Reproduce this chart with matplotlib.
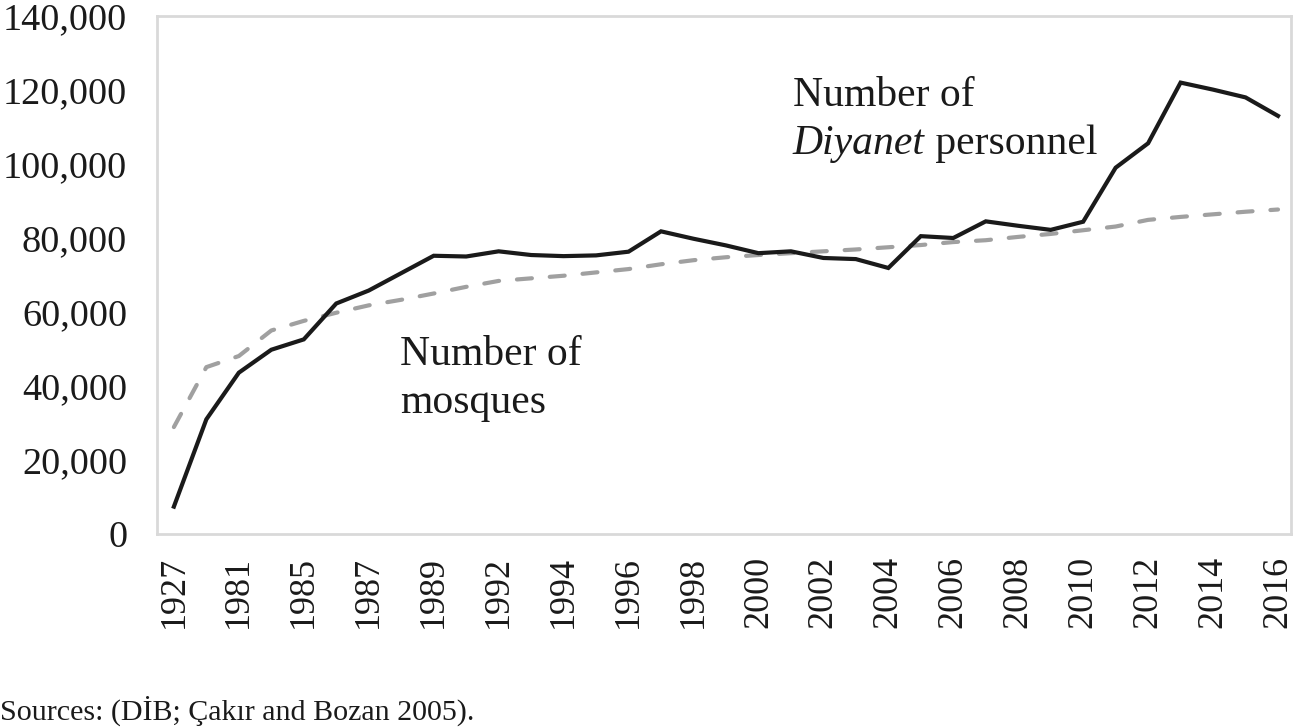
import matplotlib
matplotlib.use("Agg")
import matplotlib.pyplot as plt
from matplotlib.ticker import FuncFormatter

years = ["1927", "1970", "1981", "1983", "1985", "1986", "1987", "1988", "1989", "1990",
         "1992", "1993", "1994", "1995", "1996", "1997", "1998", "1999", "2000", "2001",
         "2002", "2003", "2004", "2005", "2006", "2007", "2008", "2009", "2010", "2011",
         "2012", "2013", "2014", "2015", "2016"]

personnel = [7400, 31000, 43600, 49800, 52600, 62300, 65800, 70500, 75200, 75000,
             76400, 75400, 75100, 75300, 76300, 81800, 79800, 78000, 75900, 76400,
             74600, 74300, 71900, 80500, 80000, 84500, 83300, 82200, 84400, 99000,
             105600, 122000, 120100, 118000, 113000]

mosques = [28900, 45100, 48100, 55000, 57600, 59800, 61800, 63300, 65000, 66800,
           68400, 69100, 69800, 70700, 71600, 72900, 74000, 74800, 75400, 75900,
           76400, 76900, 77500, 78100, 78900, 79400, 80300, 81100, 82100, 83100,
           84900, 85700, 86400, 87100, 87700]

yticks = [0, 20000, 40000, 60000, 80000, 100000, 120000, 140000]

plt.rcParams['font.family'] = ['Liberation Serif', 'DejaVu Serif']

W, H = 1297, 728
fig = plt.figure(figsize=(W / 100, H / 100), dpi=100)
ax = fig.add_axes([157 / W, (H - 534) / H, (1291 - 157) / W, (534 - 16) / H])

x = list(range(len(years)))
ax.plot(x, mosques, color="#A0A0A0", lw=3.0, dashes=(3.6, 4.3),
        dash_capstyle="round", solid_capstyle="round", zorder=2)
ax.plot(x, personnel, color="#1a1a1a", lw=3.0, solid_joinstyle="miter", zorder=3)

ax.set_xlim(-0.52, 34.4)
ax.set_ylim(0, 140000)
ax.set_yticks(yticks)
ax.yaxis.set_major_formatter(FuncFormatter(lambda v, p: f"{int(v):,}"))
ax.set_xticks(x[::2])
ax.set_xticklabels(years[::2], rotation=90)
ax.tick_params(axis="y", length=0, pad=21.5, labelsize=27.5, colors="#1a1a1a")
ax.tick_params(axis="x", length=0, pad=16, labelsize=26, colors="#1a1a1a")

for s in ax.spines.values():
    s.set_color("#D9D9D9")
    s.set_linewidth(2)

tc = "#1a1a1a"
ax.text(19.06, 118500, "Number of", fontsize=30, color=tc, va="center", ha="left")
t1 = ax.text(19.06, 105500, "Diyanet", fontsize=30, style="italic", color=tc,
             va="center", ha="left")
ax.annotate(" personnel", xy=(1, 0), xycoords=t1, fontsize=30, color=tc,
            va="bottom", ha="left")
ax.text(6.96, 48500, "Number of", fontsize=30, color=tc, va="center", ha="left")
ax.text(6.96, 35500, "mosques", fontsize=30, color=tc, va="center", ha="left")

fig.text(0 / W, 1 - 711 / H, "Sources: (DİB; Çakır and Bozan 2005).", fontsize=21.6,
         color=tc, va="center", ha="left")

fig.savefig("out.png", dpi=100)
